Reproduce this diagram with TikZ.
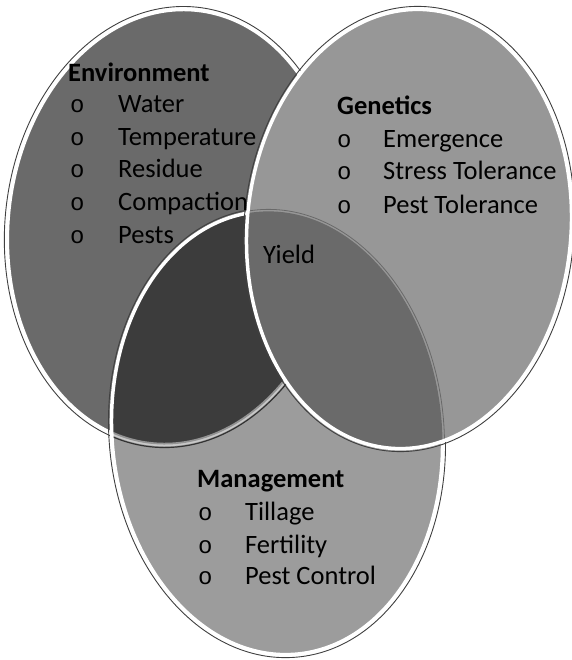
\documentclass[tikz,border=0pt]{standalone}
\usepackage{fontspec}
\setmainfont{Carlito}
\newfontfamily\bulletfont{Liberation Mono}
\definecolor{envC}{HTML}{6A6A6A}
\definecolor{genC}{HTML}{979797}
\definecolor{mgmtC}{HTML}{9C9C9C}
\definecolor{emC}{HTML}{3C3C3C}
\definecolor{gmC}{HTML}{6A6A6A}
\begin{document}
\begin{tikzpicture}[x=1pt,y=-1pt,
  envT/.style={rotate around={-6:(174,227)}},
  genT/.style={rotate around={-5:(409,229)}},
  mgmtT/.style={rotate around={5:(277,433)}},
  rim/.style={draw=white, line width=3.5pt},
  outline/.style={draw=black!75, line width=0.9pt},
  txt/.style={anchor=base west, inner sep=0pt, font=\fontsize{26.5}{30}\selectfont, text=black},
  head/.style={txt, font=\fontsize{26.5}{30}\selectfont\bfseries},
  bul/.style={anchor=base west, inner sep=0pt, font=\fontsize{24}{30}\bulletfont, text=black}
]
\useasboundingbox (0,0) rectangle (571,660);
\fill[white] (0,0) rectangle (571,660);

% Environment
\fill[envC, envT] (174,227) ellipse [x radius=166pt, y radius=218pt];
\draw[outline, envT] (174,227) ellipse [x radius=169pt, y radius=221pt];
\draw[rim, envT] (174,227) ellipse [x radius=166pt, y radius=218pt];

% Management
\fill[mgmtC, mgmtT] (277,433) ellipse [x radius=165pt, y radius=222pt];
\begin{scope}
  \clip[mgmtT] (277,433) ellipse [x radius=165pt, y radius=222pt];
  \fill[emC, envT] (174,227) ellipse [x radius=166pt, y radius=218pt];
  \draw[draw=black!80, line width=1.2pt, envT] (174,227) ellipse [x radius=169pt, y radius=221pt];
  \draw[draw=white, opacity=0.45, line width=3.5pt, envT] (174,227) ellipse [x radius=166pt, y radius=218pt];
\end{scope}
\draw[outline, mgmtT] (277,433) ellipse [x radius=168pt, y radius=225pt];
\draw[rim, mgmtT] (277,433) ellipse [x radius=165pt, y radius=222pt];

% Genetics
\fill[genC, genT] (409,229) ellipse [x radius=162pt, y radius=220pt];
\begin{scope}
  \clip[genT] (409,229) ellipse [x radius=162pt, y radius=220pt];
  \fill[gmC, mgmtT] (277,433) ellipse [x radius=165pt, y radius=222pt];
  \draw[draw=black, opacity=0.3, line width=0.8pt, mgmtT] (277,433) ellipse [x radius=167pt, y radius=224pt];
\end{scope}
\draw[outline, genT] (409,229) ellipse [x radius=165pt, y radius=223pt];
\draw[rim, genT] (409,229) ellipse [x radius=162pt, y radius=220pt];

% Environment text
\node[head] (envh) at (68,82) {Environment};
\node[bul] (eb1) at (70,113) {o};
\node[txt] (e1) at (118,113) {Water};
\node[bul] (eb2) at (70,146) {o};
\node[txt] (e2) at (118,146) {Temperature};
\node[bul] (eb3) at (70,178) {o};
\node[txt] (e3) at (118,178) {Residue};
\node[bul] (eb4) at (70,211) {o};
\node[txt] (e4) at (118,211) {Compaction};
\node[bul] (eb5) at (70,243) {o};
\node[txt] (e5) at (118,243) {Pests};

% Genetics text
\node[head] (genh) at (337,115) {Genetics};
\node[bul] (gb1) at (337,148) {o};
\node[txt] (g1) at (383,148) {Emergence};
\node[bul] (gb2) at (337,180) {o};
\node[txt] (g2) at (383,180) {Stress Tolerance};
\node[bul] (gb3) at (337,213) {o};
\node[txt] (g3) at (383,213) {Pest Tolerance};

% Yield
\node[txt] (yield) at (263,263) {Yield};

% Management text
\node[head] (mgmth) at (197,487) {Management};
\node[bul] (mb1) at (198,520) {o};
\node[txt] (m1) at (245,520) {Tillage};
\node[bul] (mb2) at (198,553) {o};
\node[txt] (m2) at (245,553) {Fertility};
\node[bul] (mb3) at (198,584) {o};
\node[txt] (m3) at (245,584) {Pest Control};
\end{tikzpicture}
\end{document}
